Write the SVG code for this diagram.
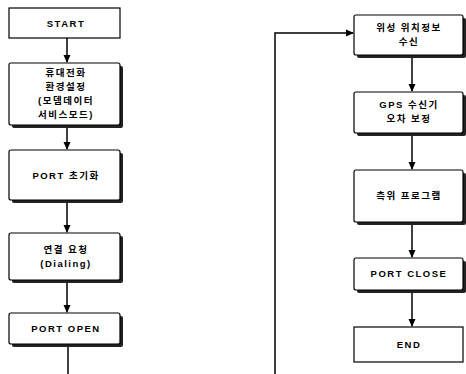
<svg xmlns="http://www.w3.org/2000/svg" width="466" height="374" viewBox="0 0 466 374">
<style>
.box{fill:#fff;stroke:#000;stroke-width:1.2}
.sh{fill:#222}
.t{font-family:"Liberation Sans","Noto Sans CJK KR",sans-serif;font-size:9.5px;font-weight:bold;text-anchor:middle;fill:#000;letter-spacing:1.5px}
.c{stroke:#000;stroke-width:1.5;fill:none}
</style>
<defs>
<marker id="a" markerWidth="8" markerHeight="8" refX="7" refY="4" orient="auto" markerUnits="userSpaceOnUse">
<path d="M0,0.5 L8,4 L0,7.5 Z" fill="#000"/>
</marker>
</defs>
<rect width="466" height="374" fill="#fff"/>
<g id="connectors">
<line class="c" x1="67" y1="38" x2="67" y2="62" marker-end="url(#a)"/>
<line class="c" x1="67" y1="128" x2="67" y2="149" marker-end="url(#a)"/>
<line class="c" x1="67" y1="203" x2="67" y2="232" marker-end="url(#a)"/>
<line class="c" x1="67" y1="283" x2="67" y2="312" marker-end="url(#a)"/>
<line class="c" x1="68" y1="347" x2="68" y2="374"/>
<polyline class="c" points="275,374 275,33 353,33" marker-end="url(#a)"/>
<line class="c" x1="412" y1="58" x2="412" y2="91" marker-end="url(#a)"/>
<line class="c" x1="412" y1="136" x2="412" y2="169" marker-end="url(#a)"/>
<line class="c" x1="412" y1="225" x2="412" y2="257" marker-end="url(#a)"/>
<line class="c" x1="412" y1="293" x2="412" y2="326" marker-end="url(#a)"/>
</g>
<g id="start">
<rect class="box" x="9" y="8" width="111" height="30"/>
<text class="t" x="66" y="27">START</text>
</g>
<g id="setup">
<rect class="sh" x="12" y="66" width="111" height="62" rx="2"/>
<rect class="box" x="9" y="63" width="111" height="62" rx="2"/>
<text class="t" x="66" y="76" letter-spacing="2.5">휴대전화</text>
<text class="t" x="66" y="90" letter-spacing="2.5">환경설정</text>
<text class="t" x="66" y="104" letter-spacing="2.5">(모뎀데이터</text>
<text class="t" x="66" y="118" letter-spacing="2.5">서비스모드)</text>
</g>
<g id="portinit">
<rect class="sh" x="12" y="153" width="111" height="50" rx="2"/>
<rect class="box" x="9" y="150" width="111" height="50" rx="2"/>
<text class="t" x="66" y="179">PORT 초기화</text>
</g>
<g id="dialing">
<rect class="sh" x="12" y="236" width="111" height="47" rx="2"/>
<rect class="box" x="9" y="233" width="111" height="47" rx="2"/>
<text class="t" x="66" y="253" letter-spacing="2.5">연결 요청</text>
<text class="t" x="66" y="267" font-weight="normal" letter-spacing="0.5">(Dialing)</text>
</g>
<g id="portopen">
<rect class="sh" x="12" y="316" width="111" height="31" rx="2"/>
<rect class="box" x="9" y="313" width="111" height="31" rx="2"/>
<text class="t" x="66" y="332">PORT OPEN</text>
</g>
<g id="recv">
<rect class="sh" x="357" y="18" width="109" height="40" rx="2"/>
<rect class="box" x="354" y="15" width="109" height="40" rx="2"/>
<text class="t" x="409" y="31">위성 위치정보</text>
<text class="t" x="409" y="45">수신</text>
</g>
<g id="gps">
<rect class="sh" x="357" y="95" width="109" height="41" rx="2"/>
<rect class="box" x="354" y="92" width="109" height="41" rx="2"/>
<text class="t" x="409" y="108">GPS 수신기</text>
<text class="t" x="409" y="122">오차 보정</text>
</g>
<g id="prog">
<rect class="sh" x="357" y="173" width="109" height="52" rx="2"/>
<rect class="box" x="354" y="170" width="109" height="52" rx="2"/>
<text class="t" x="409" y="199">측위 프로그램</text>
</g>
<g id="portclose">
<rect class="sh" x="357" y="261" width="109" height="32" rx="2"/>
<rect class="box" x="354" y="258" width="109" height="32" rx="2"/>
<text class="t" x="409" y="277">PORT CLOSE</text>
</g>
<g id="end">
<rect class="box" x="354" y="327" width="109" height="35"/>
<text class="t" x="409" y="348">END</text>
</g>
</svg>
